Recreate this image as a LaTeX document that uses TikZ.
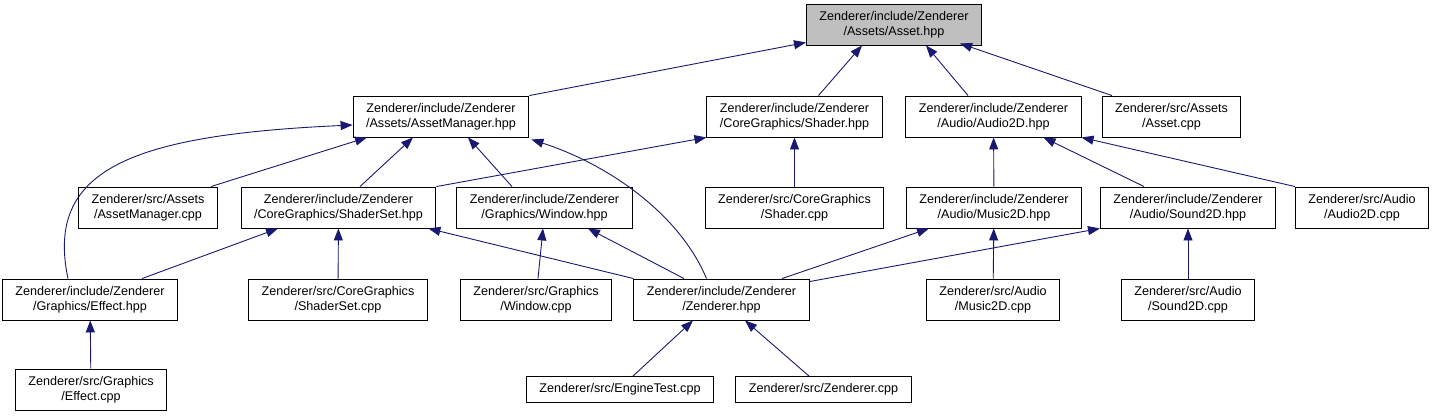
\documentclass[tikz,border=0pt]{standalone}
\usepackage{fontspec}
\setmainfont{Liberation Sans}
\usetikzlibrary{arrows.meta}
\definecolor{edgeblue}{RGB}{25,25,112}
\definecolor{rootgray}{RGB}{191,191,191}

\begin{document}
\begin{tikzpicture}[x=1pt, y=-1pt, every node/.style={font=\fontsize{12.6}{15}\selectfont}]
\tikzstyle{file} = [rectangle, minimum height=41pt, inner xsep=13pt, inner ysep=2pt,
align=center, draw=black, line width=0.9pt, fill=white]
\tikzstyle{onefile} = [file, minimum height=26pt]
\tikzstyle{root} = [file, fill=rootgray]
\tikzstyle{arrow} = [draw=edgeblue, line width=0.9pt, -{Triangle[length=12pt,width=9pt]}]

\useasboundingbox (0,0) rectangle (1433,416);

% Nodes
\node (asset) [root] at (894,24.5) {Zenderer/include/Zenderer\\/Assets/Asset.hpp};
\node (am) [file] at (441,116.5) {Zenderer/include/Zenderer\\/Assets/AssetManager.hpp};
\node (shaderh) [file] at (794.5,116.5) {Zenderer/include/Zenderer\\/CoreGraphics/Shader.hpp};
\node (audio2d) [file] at (993.5,116.5) {Zenderer/include/Zenderer\\/Audio/Audio2D.hpp};
\node (assetcpp) [file] at (1171.5,116.5) {Zenderer/src/Assets\\/Asset.cpp};
\node (amcpp) [file] at (148,207.5) {Zenderer/src/Assets\\/AssetManager.cpp};
\node (shadersetH) [file] at (338.5,207.5) {Zenderer/include/Zenderer\\/CoreGraphics/ShaderSet.hpp};
\node (windowH) [file] at (544.5,207.5) {Zenderer/include/Zenderer\\/Graphics/Window.hpp};
\node (shadercpp) [file] at (794.5,207.5) {Zenderer/src/CoreGraphics\\/Shader.cpp};
\node (music2dH) [file] at (994,207.5) {Zenderer/include/Zenderer\\/Audio/Music2D.hpp};
\node (sound2dH) [file] at (1188,207.5) {Zenderer/include/Zenderer\\/Audio/Sound2D.hpp};
\node (audio2dcpp) [file] at (1362,207.5) {Zenderer/src/Audio\\/Audio2D.cpp};
\node (effectH) [file] at (90,299.5) {Zenderer/include/Zenderer\\/Graphics/Effect.hpp};
\node (shadersetcpp) [file] at (338,299.5) {Zenderer/src/CoreGraphics\\/ShaderSet.cpp};
\node (windowcpp) [file] at (536,299.5) {Zenderer/src/Graphics\\/Window.cpp};
\node (zendH) [file] at (721.5,299.5) {Zenderer/include/Zenderer\\/Zenderer.hpp};
\node (music2dcpp) [file] at (993,299.5) {Zenderer/src/Audio\\/Music2D.cpp};
\node (sound2dcpp) [file] at (1188,299.5) {Zenderer/src/Audio\\/Sound2D.cpp};
\node (effectcpp) [file] at (91,389.5) {Zenderer/src/Graphics\\/Effect.cpp};
\node (enginetest) [onefile] at (620,389.5) {Zenderer/src/EngineTest.cpp};
\node (zendcpp) [onefile] at (823.5,389.5) {Zenderer/src/Zenderer.cpp};

% Arrows
\draw [arrow] (am.north east) -- ([yshift=3pt]asset.south west);
\draw [arrow] ([xshift=24pt]shaderh.north) -- ([xshift=-32pt]asset.south);
\draw [arrow] ([xshift=-25.5pt]audio2d.north) -- ([xshift=32pt]asset.south);
\draw [arrow] ([xshift=-59.5pt]assetcpp.north) -- ([xshift=-22pt,yshift=2pt]asset.south east);
\draw [arrow] ([xshift=63pt]amcpp.north) -- ([xshift=-74pt]am.south);
\draw [arrow] ([xshift=21.5pt]shadersetH.north) -- ([xshift=-28pt]am.south);
\draw [arrow] ([xshift=-32.5pt]windowH.north) -- ([xshift=27pt]am.south);
\draw [arrow] ([xshift=-15pt]zendH.north) .. controls (680,215) and (610,165) .. ([xshift=2pt,yshift=-2pt]am.south east);
\draw [arrow] ([xshift=-22pt]effectH.north) .. controls (45,170) and (130,135) .. ([yshift=-8.5pt]am.west);
\draw [arrow] (shadersetH.north east) -- (shaderh.south west);
\draw [arrow] (shadercpp) -- (shaderh);
\draw [arrow] (music2dH) -- (audio2d);
\draw [arrow] ([xshift=-44pt]sound2dH.north) -- ([xshift=50pt]audio2d.south);
\draw [arrow] (audio2dcpp.north west) -- (audio2d.south east);
\draw [arrow] ([xshift=52pt]effectH.north) -- ([xshift=-60.5pt]shadersetH.south);
\draw [arrow] (shadersetcpp) -- (shadersetH);
\draw [arrow] (zendH.north west) -- ([xshift=-8pt]shadersetH.south east);
\draw [arrow] ([xshift=2pt]windowcpp.north) -- ([xshift=-1.5pt]windowH.south);
\draw [arrow] ([xshift=-37.5pt]zendH.north) -- ([xshift=43.5pt]windowH.south);
\draw [arrow] ([xshift=60.5pt]zendH.north) -- ([xshift=-65pt]music2dH.south);
\draw [arrow] ([yshift=-3pt]zendH.north east) -- (sound2dH.south west);
\draw [arrow] (music2dcpp) -- (music2dH);
\draw [arrow] (sound2dcpp) -- (sound2dH);
\draw [arrow] (effectcpp) -- (effectH);
\draw [arrow] ([xshift=13pt]enginetest.north) -- ([xshift=-28.5pt]zendH.south);
\draw [arrow] ([xshift=-14.5pt]zendcpp.north) -- ([xshift=23.5pt]zendH.south);
\end{tikzpicture}
\end{document}
